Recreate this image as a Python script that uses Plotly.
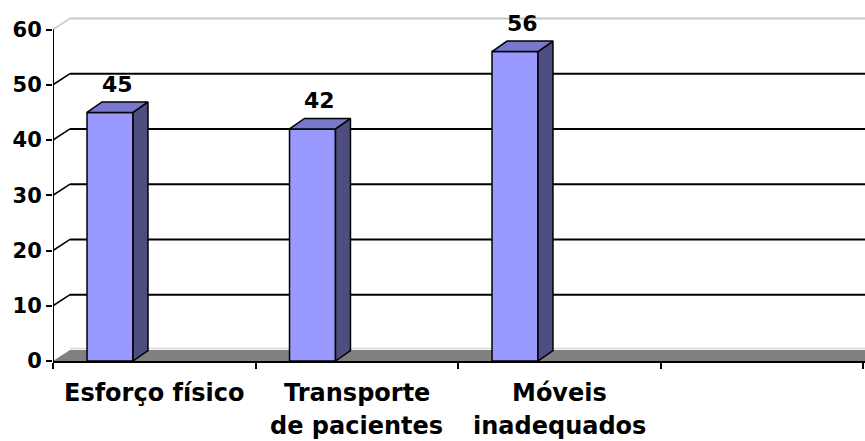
import plotly.graph_objects as go

# ---- data ----
categories = ["Esforço físico", "Transporte<br>de pacientes", "Móveis<br>inadequados"]
values = [45, 42, 56]
y_ticks = [0, 10, 20, 30, 40, 50, 60]
n_slots = 4  # category slots on the axis (last one empty)

# ---- style ----
FONT = "DejaVu Sans"
FRONT = "#9999FF"
SIDE = "#4D4D80"
TOP = "#7878CC"
BAR_OFFSET = -0.332
BAR_WIDTH = 0.227
DX, DY = 0.074, 1.9      # bar depth (data units)
WX, WY = 0.084, 2.0      # wall depth (data units)
XMAX = n_slots + 0.0099
YMAX = 65.34

x_centers = [i + 0.5 for i in range(len(values))]

fig = go.Figure()

fig.add_trace(go.Bar(
    x=x_centers, y=values, width=BAR_WIDTH, offset=BAR_OFFSET,
    marker=dict(color=FRONT, line=dict(color="black", width=1.5)),
    hoverinfo="skip",
))

annotations = []
for xc, v in zip(x_centers, values):
    xl = xc + BAR_OFFSET
    xr = xl + BAR_WIDTH
    # side face
    fig.add_trace(go.Scatter(
        x=[xr, xr + DX, xr + DX, xr, xr], y=[0, DY, v + DY, v, 0],
        mode="lines", fill="toself", fillcolor=SIDE,
        line=dict(color="black", width=1.5), hoverinfo="skip"))
    # top face
    fig.add_trace(go.Scatter(
        x=[xl, xr, xr + DX, xl + DX, xl], y=[v, v, v + DY, v + DY, v],
        mode="lines", fill="toself", fillcolor=TOP,
        line=dict(color="black", width=1.5), hoverinfo="skip"))
    annotations.append(dict(
        x=xl + BAR_WIDTH / 2 + DX / 2, y=v + DY, xref="x", yref="y",
        text=str(v), showarrow=False, yanchor="bottom", yshift=3,
        font=dict(family=FONT, size=22, color="black", weight=700)))

# category labels
line_shifts = [-16, -49]
for i, cat in enumerate(categories):
    for j, line in enumerate(cat.split("<br>")):
        annotations.append(dict(
            x=i + 0.5, y=0, xref="x", yref="paper", yanchor="top",
            yshift=line_shifts[j], text=line, showarrow=False,
            font=dict(family=FONT, size=24, color="black", weight=700)))

shapes = []
# floor
shapes.append(dict(type="path", xref="x", yref="y", layer="below",
                   path=f"M 0,0 L {WX},{WY} L {XMAX},{WY} L {XMAX},0 Z",
                   fillcolor="#808080", line=dict(width=0)))
shapes.append(dict(type="line", xref="x", yref="y", layer="below",
                   x0=WX, y0=WY + 0.25, x1=XMAX, y1=WY + 0.25,
                   line=dict(color="#D8D8D8", width=1.5)))
# gridlines on walls
for t in y_ticks[1:]:
    col = "#C8C8C8" if t == y_ticks[-1] else "black"
    shapes.append(dict(type="line", xref="x", yref="y", layer="below",
                       x0=0, y0=t, x1=WX, y1=t + WY, line=dict(color=col, width=1.5)))
    shapes.append(dict(type="line", xref="x", yref="y", layer="below",
                       x0=WX, y0=t + WY, x1=XMAX, y1=t + WY, line=dict(color=col, width=2)))
# value axis line
shapes.append(dict(type="line", xref="x", yref="y",
                   x0=0, y0=0, x1=0, y1=y_ticks[-1], line=dict(color="black", width=2)))

fig.update_layout(
    width=865, height=441,
    margin=dict(l=53, r=0, t=0, b=80),
    plot_bgcolor="white", paper_bgcolor="white",
    showlegend=False,
    shapes=shapes, annotations=annotations,
    xaxis=dict(range=[0, XMAX], tickvals=list(range(n_slots + 1)),
               showticklabels=False, ticks="outside", ticklen=6, tickwidth=1.5,
               tickcolor="black", showline=True, linecolor="black", linewidth=2,
               showgrid=False, zeroline=False, fixedrange=True),
    yaxis=dict(range=[0, YMAX], tickvals=y_ticks, ticks="outside", ticklen=6,
               tickwidth=1.5, tickcolor="black", showline=False, showgrid=False,
               zeroline=False, fixedrange=True,
               tickfont=dict(family=FONT, size=21, color="black", weight=700)),
)

fig.write_html("out.html")
